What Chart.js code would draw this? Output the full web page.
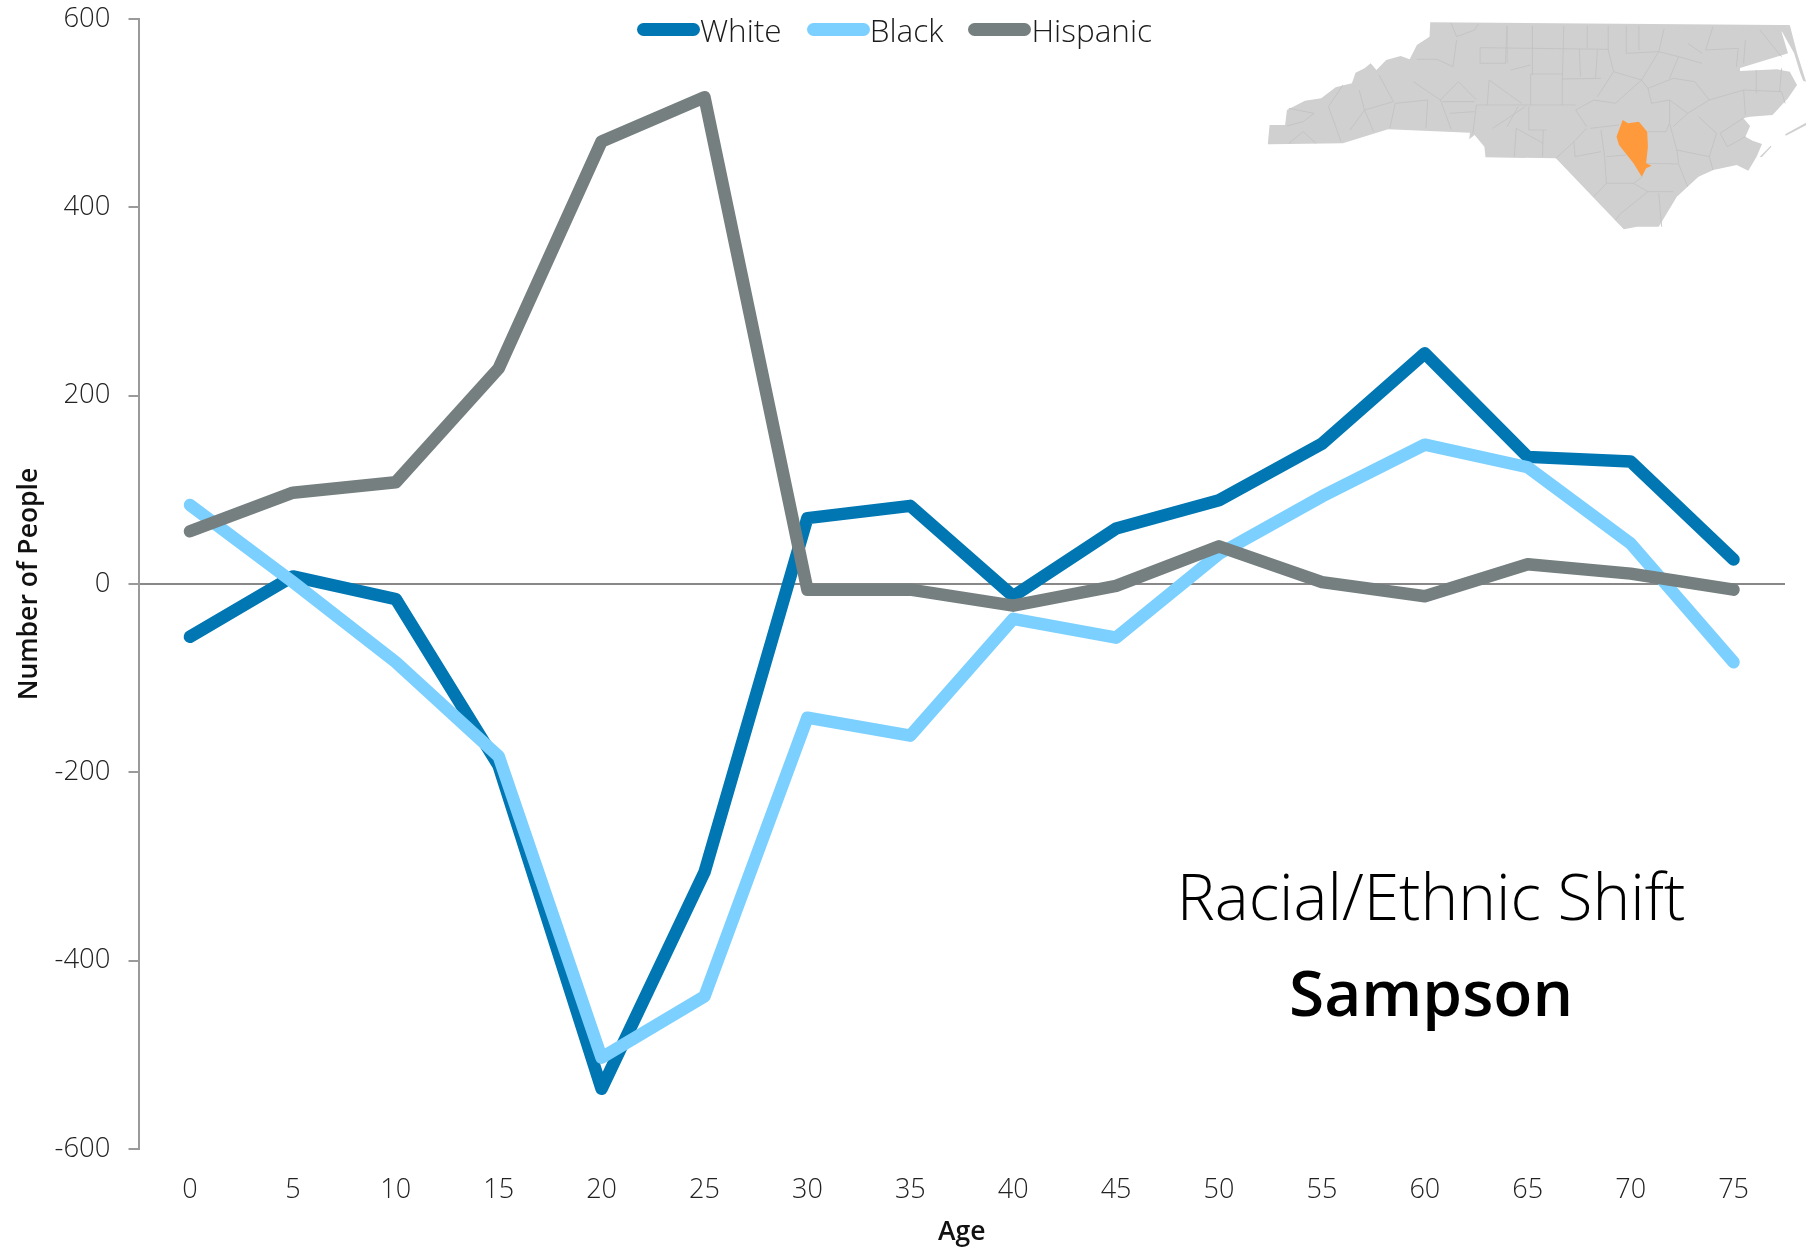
<!DOCTYPE html>
<html>
<head>
<meta charset="utf-8">
<script src="https://cdn.jsdelivr.net/npm/chart.js@4"></script>
<style>
  html, body { margin: 0; background: #fff; }
  #wrap { position: relative; width: 1806px; height: 1248px; overflow: hidden; font-family: "Open Sans", sans-serif; }
  #chart { position: absolute; left: 0; top: 0; }
  #map { position: absolute; left: 0; top: 0; pointer-events: none; }
  #legend { position: absolute; left: 637px; top: 5px; height: 48px; display: flex; align-items: center; color: #1c1c1c; font-size: 31.5px; font-weight: 300; }
  #legend .item { display: flex; align-items: center; margin-right: 25px; }
  #legend .swatch { width: 63px; height: 13px; border-radius: 7px; margin-right: 0; }
  .label { position: absolute; left: 1131px; width: 600px; text-align: center; color: #000; white-space: nowrap; }
  #t1 { top: 851px; font-size: 64px; font-weight: 300; line-height: 90px; }
  #t2 { top: 947px; font-size: 64px; font-weight: 600; line-height: 90px; }
</style>
</head>
<body>
<div id="wrap">
  <canvas id="chart" width="1806" height="1248"></canvas>
  <svg id="map" width="1806" height="1248">
    <g transform="translate(1240,0) scale(0.361,0.3333)" fill="#d0d0d0">
      <polygon points="77,433 82,375 125,375 130,330 180,302 225,295 265,262 310,250 320,218 345,205 362,190 378,210 405,180 445,168 470,178 490,135 525,110 527,67 1523,75 1500,95 1518,160 1385,204 1385,213 1488,208 1523,215 1543,255 1518,295 1475,345 1413,350 1394,354 1413,378 1400,410 1420,422 1446,432 1431,470 1408,512 1376,495 1311,510 1270,530 1210,590 1160,680 1100,680 1063,688 875,475 680,472 677,440 650,405 635,418 637,398 410,388 285,430"/>
      <polygon points="1523,75 1543,159 1568,245 1560,242 1552,220 1535,160 1500,92"/>
      <polygon points="1510,403 1568,368 1568,376 1512,407"/>
      <polygon points="1440,470 1470,437 1472,440 1445,472"/>
      <path fill="none" stroke="#c2c2c2" stroke-width="2.5" d="
        M585,70 L600,110 L650,90 L660,72
        M490,178 L545,178 L590,200 L600,120
        M130,378 L175,365 L205,340 L135,325
        M135,430 L175,395 L210,430
        M245,320 L285,255 M245,320 L280,425
        M330,270 L345,330 L425,305 L385,225
        M305,390 L345,330 L370,395
        M415,385 L430,310 L520,300 L515,385
        M555,300 L585,388 M555,300 L605,245 L655,300
        M480,245 L555,300
        M560,305 L650,305 M580,340 L650,335
        M655,315 L645,400
        M665,143 L665,190 L735,190 L740,78
        M690,240 L685,315 M690,240 L780,310
        M750,210 L805,195
        M740,78 L740,190
        M810,78 L810,225 M805,222 L805,315
        M897,78 L893,237 L893,315
        M962,78 L962,145 M1020,78 L1020,150 M1070,78 L1070,160 M1105,78 L1105,150
        M665,143 L1020,148
        M805,222 L893,222 M893,237 L1000,235
        M655,315 L930,315
        M940,147 L943,230 M990,150 L985,232
        M1020,150 L1035,215 L990,290
        M1035,215 L1112,240 L1040,310
        M1160,155 L1112,240 L1130,265 L1200,235 L1260,245
        M1070,160 L1160,155 L1215,170 L1280,190 M1175,85 L1160,155 M1215,170 L1190,235
        M1310,80 L1290,150 L1380,145 L1375,200 M1240,130 L1280,160
        M1040,310 L980,300 L930,330 L960,380
        M1130,265 L1140,310 L1190,300 L1240,340 L1300,300 L1260,245
        M1190,300 L1190,370 L1210,450 L1215,490
        M1130,395 L1180,395 L1190,370
        M1125,490 L1215,492 L1240,560
        M1210,450 L1300,470 L1310,510
        M1240,340 L1200,380 M1300,300 L1395,270 L1400,345
        M1330,400 L1400,350 M1330,400 L1350,440 L1400,410 M1300,470 L1320,400 L1270,350
        M970,385 L1050,375 M1000,390 L1010,470 L1015,550 L980,590
        M1015,470 L1070,465 M1015,550 L1090,550 L1115,530
        M1090,550 L1130,575 L1055,640 L1040,660 M1130,575 L1200,575 M1160,580 L1168,680
        M875,475 L925,425 L960,385 M925,425 L928,470 L1000,455
        M765,385 L760,470 M840,390 L838,470 M765,385 L840,430 M700,385 L790,320 M740,380 L770,320 M850,390 L800,390 L800,320
        M1395,270 L1500,275 L1510,310 M1430,210 L1430,280 M1500,205 L1495,275
        M1400,120 L1395,190 M1440,90 L1500,170"/>
      <polygon fill="#ff9a3c" points="1060,360 1075,370 1105,365 1128,395 1130,440 1125,490 1140,497 1125,505 1113,530 1090,490 1050,435 1043,410"/>
    </g>
  </svg>
  <div id="legend"></div>
  <div class="label" id="t1">Racial/Ethnic Shift</div>
  <div class="label" id="t2">Sampson</div>
</div>
<script>
const ages = ["0", "5", "10", "15", "20", "25", "30", "35", "40", "45", "50", "55", "60", "65", "70", "75"];
const white = [-56, 8, -16, -193, -536, -306, 70, 83, -13, 59, 89, 149, 245, 135, 130, 26];
const black = [84, 2, -83, -183, -503, -438, -142, -161, -37, -57, 32, 93, 148, 124, 43, -83];
const hispanic = [56, 97, 108, 229, 470, 517, -6, -6, -23, -2, 40, 2, -13, 21, 11, -6];

const LIGHT = { family: "Open Sans", weight: "300" };
const AXIS_TITLE_FONT = { family: "Open Sans", weight: "600", size: 26.5 };

function makeSeries(label, data, color, order) {
  return {
    label,
    data,
    borderColor: color,
    backgroundColor: color,
    borderWidth: 12.5,
    borderCapStyle: "round",
    borderJoinStyle: "round",
    pointRadius: 0,
    tension: 0,
    order,
  };
}

const chart = new Chart(document.getElementById("chart"), {
  type: "line",
  data: {
    labels: ages,
    datasets: [
      makeSeries("White", white, "#0077b3", 3),
      makeSeries("Black", black, "#7bd0ff", 2),
      makeSeries("Hispanic", hispanic, "#757f7f", 1),
    ],
  },
  options: {
    responsive: false,
    animation: false,
    layout: { padding: { top: 19, right: 21, bottom: 0, left: 0 } },
    plugins: { legend: { display: false }, tooltip: { enabled: false } },
    scales: {
      x: {
        offset: true,
        afterFit: (s) => { s.height = 99; s.paddingLeft = 0; s.paddingRight = 0; },
        border: { display: false },
        grid: { display: false },
        ticks: { color: "#222", font: { ...LIGHT, size: 27 }, padding: 17, maxRotation: 0, autoSkip: false },
        title: { display: true, text: "Age", color: "#111", font: AXIS_TITLE_FONT, padding: { top: 0, bottom: 0 } },
      },
      y: {
        min: -600,
        max: 600,
        afterFit: (s) => { s.width = 138.5; s.paddingTop = 0; s.paddingBottom = 0; },
        border: { display: true, color: "#9a9a9a", width: 2 },
        grid: {
          color: (c) => (c.tick.value === 0 ? "#888888" : "transparent"),
          tickColor: "#9a9a9a",
          lineWidth: 2,
          tickLength: 10,
        },
        ticks: { stepSize: 200, color: "#222", font: { ...LIGHT, size: 27.5 }, padding: 18 },
        title: { display: true, text: "Number of People", color: "#111", font: AXIS_TITLE_FONT, padding: { top: 14, bottom: 0 } },
      },
    },
  },
});

const legendBox = document.getElementById("legend");
chart.data.datasets.forEach((ds) => {
  const item = document.createElement("div");
  item.className = "item";
  const swatch = document.createElement("span");
  swatch.className = "swatch";
  swatch.style.background = ds.borderColor;
  const text = document.createElement("span");
  text.textContent = ds.label;
  item.append(swatch, text);
  legendBox.append(item);
});
</script>
</body>
</html>
